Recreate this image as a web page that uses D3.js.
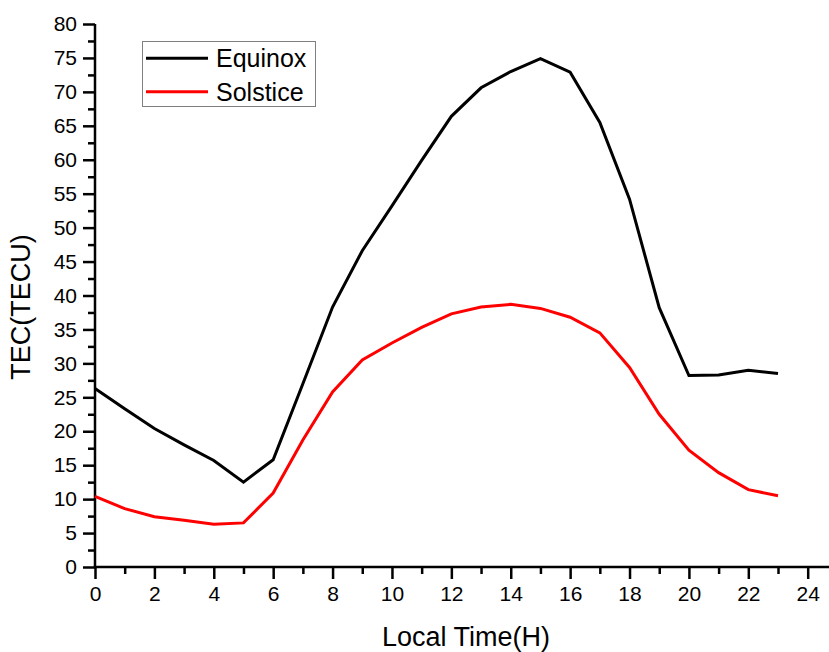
<!DOCTYPE html>
<head>
  <meta charset="utf-8">
  <title>TEC Equinox vs Solstice</title>
  <style>
    body { margin: 0; background: #fff; }
    text { font-family: "Liberation Sans", Arial, sans-serif; fill: #000; }
  </style>
</head>
<body>
  <div id="chart"></div>
  <script src="https://d3js.org/d3.v7.min.js"></script>
  <script>
    const hours = d3.range(0, 24);
    const equinox = [26.3, 23.3, 20.4, 18.0, 15.7, 12.5, 15.8, 27.0, 38.3, 46.6, 53.2, 59.9,
      66.4, 70.6, 73.0, 74.9, 72.9, 65.5, 54.2, 38.2, 28.2, 28.3, 29.0, 28.5];
    const solstice = [10.4, 8.6, 7.4, 6.9, 6.3, 6.5, 10.9, 18.7, 25.8, 30.5, 33.0, 35.3,
      37.3, 38.3, 38.7, 38.1, 36.8, 34.5, 29.4, 22.5, 17.2, 13.9, 11.4, 10.5];
    const xTicks = d3.range(0, 25, 2);
    const yTicks = d3.range(0, 81, 5);
    const seriesNames = ["Equinox", "Solstice"];
    const seriesColors = ["#000000", "#ff0000"];

    const width = 829, height = 652;
    const svg = d3.select("#chart").append("svg")
      .attr("width", width).attr("height", height);

    const x = d3.scaleLinear().domain([0, 24]).range([95, 807.7]);
    const y = d3.scaleLinear().domain([0, 80]).range([567, 24]);

    // minor ticks
    svg.append("g")
      .attr("transform", `translate(0,${y(0)})`)
      .call(d3.axisBottom(x).tickValues(d3.range(1, 24, 2)).tickSize(7).tickSizeOuter(0).tickFormat(""))
      .call(g => g.select(".domain").remove())
      .selectAll("line").attr("stroke-width", 2.5);
    svg.append("g")
      .attr("transform", `translate(${x(0)},0)`)
      .call(d3.axisLeft(y).tickValues(d3.range(2.5, 80, 5)).tickSize(7).tickSizeOuter(0).tickFormat(""))
      .call(g => g.select(".domain").remove())
      .selectAll("line").attr("stroke-width", 2.5);

    // major ticks
    const xAxis = svg.append("g")
      .attr("transform", `translate(0,${y(0)})`)
      .call(d3.axisBottom(x).tickValues(xTicks).tickSize(12).tickPadding(7).tickSizeOuter(0))
      .call(g => g.select(".domain").remove());
    xAxis.selectAll("line").attr("stroke-width", 2.5);
    xAxis.selectAll("text").attr("font-size", 21).attr("font-family", "Liberation Sans, Arial, sans-serif");

    const yAxis = svg.append("g")
      .attr("transform", `translate(${x(0)},0)`)
      .call(d3.axisLeft(y).tickValues(yTicks).tickSize(12).tickPadding(6).tickSizeOuter(0))
      .call(g => g.select(".domain").remove());
    yAxis.selectAll("line").attr("stroke-width", 2.5);
    yAxis.selectAll("text").attr("font-size", 21).attr("font-family", "Liberation Sans, Arial, sans-serif");

    // axis lines
    svg.append("line")
      .attr("x1", x(0) - 1.25).attr("x2", width).attr("y1", y(0)).attr("y2", y(0))
      .attr("stroke", "#000").attr("stroke-width", 2.5);
    svg.append("line")
      .attr("x1", x(0)).attr("x2", x(0)).attr("y1", y(0)).attr("y2", y(80))
      .attr("stroke", "#000").attr("stroke-width", 2.5);

    // lines
    const line = d3.line().x((d, i) => x(hours[i])).y(d => y(d));
    [equinox, solstice].forEach((s, k) => {
      svg.append("path")
        .datum(s)
        .attr("fill", "none")
        .attr("stroke", seriesColors[k])
        .attr("stroke-width", 3)
        .attr("stroke-linejoin", "miter")
        .attr("d", line);
    });

    // axis titles
    svg.append("text")
      .attr("x", 466).attr("y", 646)
      .attr("text-anchor", "middle")
      .attr("font-size", 27)
      .text("Local Time(H)");
    svg.append("text")
      .attr("transform", "translate(30,307) rotate(-90)")
      .attr("text-anchor", "middle")
      .attr("font-size", 27)
      .text("TEC(TECU)");

    // legend
    const legend = svg.append("g");
    legend.append("rect")
      .attr("x", 142.5).attr("y", 41.5).attr("width", 173).attr("height", 65)
      .attr("fill", "#fff").attr("stroke", "#808080").attr("stroke-width", 1);
    seriesNames.forEach((name, i) => {
      const ly = 58.3 + i * 33.4;
      legend.append("line")
        .attr("x1", 146).attr("x2", 208).attr("y1", ly).attr("y2", ly)
        .attr("stroke", seriesColors[i]).attr("stroke-width", 3);
      legend.append("text")
        .attr("x", 216).attr("y", ly + 9)
        .attr("font-size", 25)
        .text(name);
    });
  </script>
</body>
</html>
